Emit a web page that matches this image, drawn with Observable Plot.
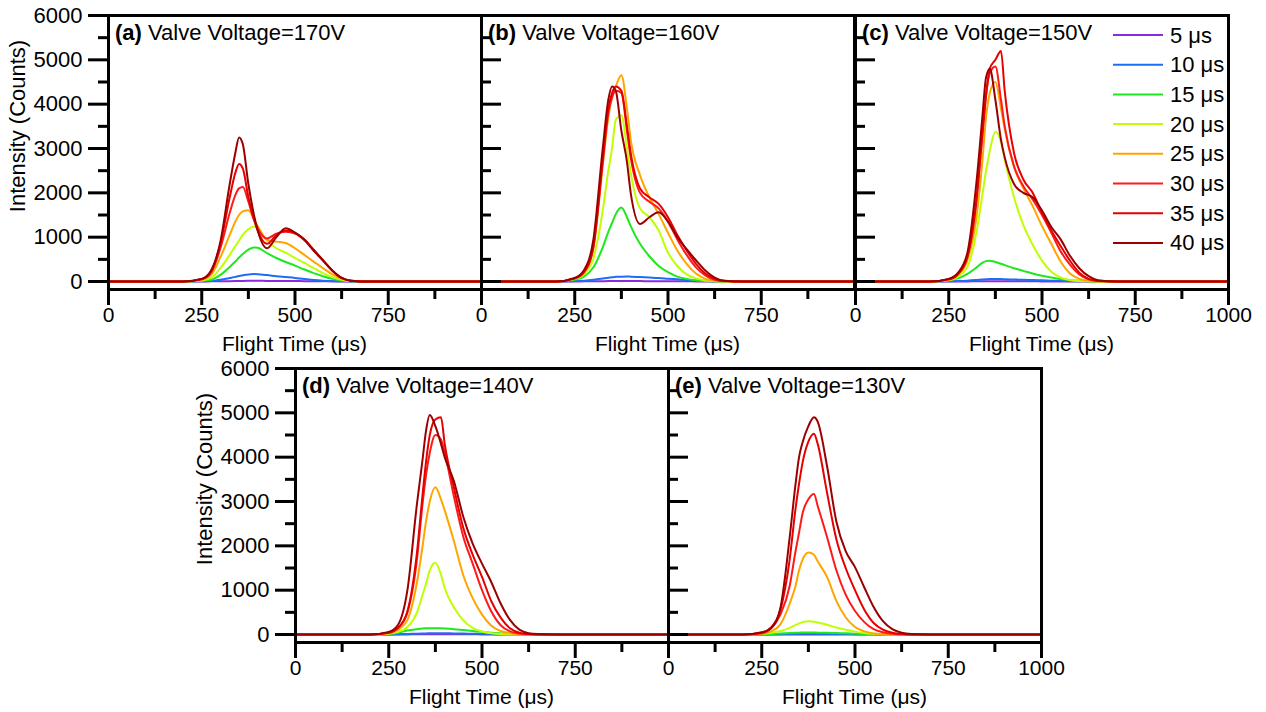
<!DOCTYPE html>
<html><head><meta charset="utf-8">
<script src="https://cdn.jsdelivr.net/npm/d3@7"></script>
<script src="https://cdn.jsdelivr.net/npm/@observablehq/plot@0.6"></script>
<style>
body{margin:0;background:#fff;font-family:"Liberation Sans",Arial,sans-serif;}
#chart{position:relative;width:1266px;height:712px;overflow:hidden;background:#fff;}
.pane{position:absolute;}
.ttl{position:absolute;font-size:22px;line-height:22px;white-space:nowrap;color:#000;}
.ylab{position:absolute;font-size:22px;line-height:22px;white-space:nowrap;transform:translate(-50%,-50%) rotate(-90deg);color:#000;}
.xlab{position:absolute;font-size:21px;line-height:21px;white-space:nowrap;transform:translate(-50%,-50%);color:#000;}
</style></head><body><div id="chart"></div>
<script>
// ---- data ----
const flightTime = [0,200,250,275,300,325,340,350,360,375,390,400,425,450,475,500,525,550,575,600,625,650,700,1000];
const delays = ["5 μs","10 μs","15 μs","20 μs","25 μs","30 μs","35 μs","40 μs"];
const colors = ["#8a2be2","#1e6ef5","#1ee81e","#bfff00","#ffa500","#ff1a1a","#e60000","#9b0000"];
const xMajor = [0,250,500,750];
const xMajorLast = [0,250,500,750,1000];
const xMinor = [125,375,625,875];
const yMajor = [0,1000,2000,3000,4000,5000,6000];
const yMinor = [500,1500,2500,3500,4500,5500];

const v170 = [
 [0,0,2,4,6,8,10,12,14,15,15,15,14,13,12,10,8,6,4,3,2,1,0,0],
 [0,0,5,10,40,80,105,125,140,160,168,165,145,120,100,80,55,35,20,10,5,2,0,0],
 [0,0,15,40,150,330,450,540,620,720,770,760,640,530,440,360,270,190,120,60,20,5,0,0],
 [0,0,25,80,300,600,800,920,1050,1180,1240,1200,920,750,650,530,420,300,190,100,40,10,0,0],
 [0,0,40,150,550,1050,1350,1500,1580,1610,1400,1250,940,900,870,750,600,450,300,160,60,15,0,0],
 [0,0,50,200,750,1550,1950,2100,2130,1800,1400,1200,970,1080,1120,1080,930,700,470,240,80,20,0,0],
 [0,0,55,230,850,1900,2450,2650,2550,1900,1400,1150,850,1050,1150,1100,950,720,480,250,80,20,0,0],
 [0,0,60,250,900,2200,2900,3250,3100,2200,1500,1150,750,1000,1200,1100,950,700,480,250,80,20,0,0]
];
const v160 = [
 [0,0,2,4,6,8,10,10,10,10,10,10,9,8,7,6,5,4,3,2,1,0,0,0],
 [0,0,10,20,40,70,85,95,105,110,112,110,100,90,80,65,50,35,20,10,5,2,0,0],
 [0,0,40,110,320,770,1120,1320,1520,1670,1450,1250,850,570,350,210,110,60,30,12,4,0,0,0],
 [0,0,60,170,520,1600,2500,3000,3650,3750,3000,2450,1650,1450,1150,650,350,160,70,25,8,0,0,0],
 [0,0,70,200,750,2600,3700,4150,4400,4650,3900,3200,2400,1900,1520,1100,700,400,180,60,20,5,0,0],
 [0,0,70,210,780,2700,3800,4150,4300,4250,3400,2800,2000,1800,1650,1350,950,600,320,140,40,10,0,0],
 [0,0,70,220,800,2750,3900,4250,4400,4300,3500,2900,2100,1900,1750,1450,1050,700,400,180,60,15,0,0],
 [0,0,80,260,950,3000,4100,4400,4300,3400,2700,2000,1300,1450,1560,1350,1000,730,480,250,90,20,0,0]
];
const v150 = [
 [0,0,1,2,3,4,5,5,5,5,5,5,5,4,4,3,3,2,1,1,0,0,0,0],
 [0,0,5,10,20,35,45,50,55,55,55,50,45,40,35,28,20,15,10,5,2,0,0,0],
 [0,0,30,70,170,320,420,460,470,440,400,370,300,240,180,130,90,55,30,15,5,0,0,0],
 [0,0,30,110,330,1150,1950,2500,2950,3380,3150,2750,1900,1270,830,470,220,90,35,10,3,0,0,0],
 [0,0,40,150,480,1500,2700,3700,4250,4500,3900,3450,2580,2100,1700,1250,850,450,180,60,15,3,0,0],
 [0,0,50,170,560,1900,3300,4200,4700,4850,4100,3500,2600,2150,1850,1500,1100,680,380,160,50,10,0,0],
 [0,0,50,170,560,1900,3300,4200,4800,5000,5200,4300,2900,2300,2000,1550,1150,800,470,200,60,15,0,0],
 [0,0,60,200,650,2300,3700,4600,4800,4100,3200,2800,2200,2000,1900,1600,1230,950,580,300,120,30,0,0]
];
const v140 = [
 [0,0,1,2,3,4,5,5,5,5,5,5,5,4,4,3,3,2,1,1,0,0,0,0],
 [0,0,3,6,12,18,22,25,27,28,28,27,25,22,18,14,10,7,4,2,1,0,0,0],
 [0,0,15,40,90,120,135,140,143,143,140,135,120,100,80,60,40,25,12,5,2,0,0,0],
 [0,0,20,60,170,480,880,1150,1450,1620,1350,1050,610,320,150,70,30,10,3,0,0,0,0,0],
 [0,0,30,110,330,1150,1950,2550,3000,3320,3050,2800,2100,1330,820,450,200,80,30,10,3,0,0,0],
 [0,0,40,150,500,1650,2900,3600,4100,4500,4400,4100,3100,2200,1600,1000,520,210,70,20,5,0,0,0],
 [0,0,40,150,520,1800,3100,3900,4500,4850,4900,4300,3300,2400,1800,1300,750,380,140,40,10,0,0,0],
 [0,0,60,220,1000,2900,3900,4600,4950,4700,4300,4000,3450,2650,2050,1600,1180,700,330,110,30,10,0,0]
];
const v130 = [
 [0,0,0,1,2,3,3,3,3,3,3,3,3,3,2,2,2,1,1,0,0,0,0,0],
 [0,0,2,4,8,12,14,15,16,16,16,15,14,12,10,8,6,4,2,1,0,0,0,0],
 [0,0,5,12,25,35,40,42,44,45,44,42,38,32,26,20,14,9,5,2,1,0,0,0],
 [0,0,15,40,80,150,210,250,280,300,290,270,220,160,110,65,35,15,5,0,0,0,0,0],
 [0,0,20,70,230,700,1080,1450,1700,1850,1800,1650,1300,760,390,170,70,25,10,3,0,0,0,0],
 [0,0,30,140,450,1100,1850,2300,2750,3050,3170,2900,2200,1450,900,530,280,120,50,15,5,0,0,0],
 [0,0,40,160,550,1700,2800,3400,3900,4350,4530,4300,3200,2150,1500,1000,560,260,110,40,10,0,0,0],
 [0,0,50,140,600,2200,3350,4000,4350,4700,4900,4800,3800,2550,1880,1520,1060,620,300,120,40,10,0,0]
];
const panelIds = ["(a)","(b)","(c)","(d)","(e)"];
const voltages = ["170V","160V","150V","140V","130V"];

// ---- layout ----
const ML = 110, MR = 20, MT = 15, MB = 75, PW = 373, PH = 274;
const FONT = "'Liberation Sans', Arial, sans-serif";
const panels = [
  {vals: v170, x0: 108, y0: 15, first: true,  last: false},
  {vals: v160, x0: 481, y0: 15, first: false, last: false},
  {vals: v150, x0: 855, y0: 15, first: false, last: true},
  {vals: v140, x0: 295, y0: 368, first: true,  last: false},
  {vals: v130, x0: 668, y0: 368, first: false, last: true}
];
const chart = document.getElementById("chart");

panels.forEach((p, k) => {
  const rows = [];
  p.vals.forEach((series, i) => series.forEach((v, j) => rows.push({t: flightTime[j], v, s: delays[i]})));
  const yTickOpts = p.first
    ? {ticks: yMajor, tickSize: 20, tickPadding: 6, strokeWidth: 3, tickFormat: "d", label: null, fontSize: 22}
    : {ticks: yMajor, tickSize: -20, strokeWidth: 3, tickFormat: () => "", label: null};
  const svg = Plot.plot({
    width: ML + PW + MR, height: MT + PH + MB,
    marginLeft: ML, marginRight: MR, marginTop: MT, marginBottom: MB,
    style: {background: "transparent", overflow: "visible", fontFamily: FONT, fontSize: "22px", color: "black"},
    x: {domain: [0, 1000], label: null},
    y: {domain: [-180, 6000], label: null},
    color: {domain: delays, range: colors},
    marks: [
      Plot.line(rows, {x: "t", y: "v", z: "s", stroke: "s", strokeWidth: 2, curve: "monotone-x"}),
      Plot.frame({stroke: "black", strokeWidth: 3}),
      Plot.axisX({ticks: p.last ? xMajorLast : xMajor, tickSize: 16, tickPadding: 2, strokeWidth: 3, tickFormat: "d", label: null, fontSize: 21}),
      Plot.axisX({ticks: xMinor, tickSize: 10, strokeWidth: 3, tickFormat: () => "", label: null}),
      Plot.axisY(yTickOpts),
      Plot.axisY({ticks: yMinor, tickSize: p.first ? 10 : -10, strokeWidth: 3, tickFormat: () => "", label: null})
    ]
  });
  svg.classList.add("pane");
  svg.style.left = (p.x0 - ML) + "px";
  svg.style.top = (p.y0 - MT) + "px";
  chart.appendChild(svg);

  const t = document.createElement("div");
  t.className = "ttl";
  t.innerHTML = `<b>${panelIds[k]}</b> Valve Voltage=${voltages[k]}`;
  t.style.left = (p.x0 + 7) + "px";
  t.style.top = (p.y0 + 7) + "px";
  chart.appendChild(t);

  const xl = document.createElement("div");
  xl.className = "xlab";
  xl.textContent = "Flight Time (μs)";
  xl.style.left = (p.x0 + PW / 2) + "px";
  xl.style.top = (p.y0 + PH + 54) + "px";
  chart.appendChild(xl);

  if (p.first) {
    const yl = document.createElement("div");
    yl.className = "ylab";
    yl.textContent = "Intensity (Counts)";
    yl.style.left = (p.x0 - 90) + "px";
    yl.style.top = (p.y0 + 111) + "px";
    chart.appendChild(yl);
  }
});

// legend inside panel (c)
const ns = "http://www.w3.org/2000/svg";
const leg = document.createElementNS(ns, "svg");
leg.setAttribute("width", 140); leg.setAttribute("height", 250);
leg.style.position = "absolute"; leg.style.left = "1100px"; leg.style.top = "14px";
delays.forEach((d, i) => {
  const y = 21 + 29.7 * i;
  const ln = document.createElementNS(ns, "line");
  ln.setAttribute("x1", 13); ln.setAttribute("x2", 63);
  ln.setAttribute("y1", y); ln.setAttribute("y2", y);
  ln.setAttribute("stroke", colors[i]); ln.setAttribute("stroke-width", 2);
  leg.appendChild(ln);
  const tx = document.createElementNS(ns, "text");
  tx.setAttribute("x", 70); tx.setAttribute("y", y);
  tx.setAttribute("dominant-baseline", "central");
  tx.setAttribute("font-size", 22); tx.setAttribute("font-family", FONT);
  tx.textContent = d;
  leg.appendChild(tx);
});
chart.appendChild(leg);
</script></body></html>
